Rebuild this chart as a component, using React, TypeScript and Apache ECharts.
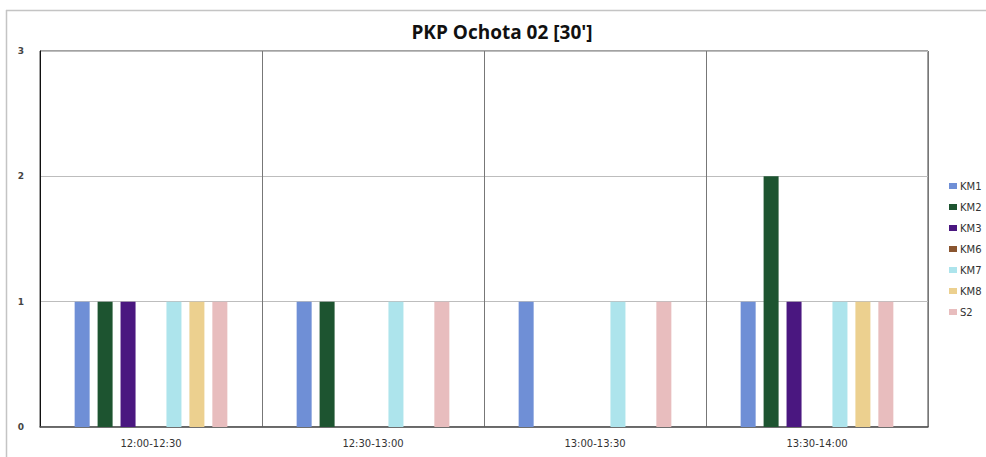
import React, { useEffect, useRef } from "react";
import * as echarts from "echarts";

const categories = ["12:00-12:30", "12:30-13:00", "13:00-13:30", "13:30-14:00"];
const seriesNames = ["KM1", "KM2", "KM3", "KM6", "KM7", "KM8", "S2"];
const km1 = [1, 1, 1, 1];
const km2 = [1, 1, 0, 2];
const km3 = [1, 0, 0, 1];
const km6 = [0, 0, 0, 0];
const km7 = [1, 1, 1, 1];
const km8 = [1, 0, 0, 1];
const s2 = [1, 1, 1, 1];
const seriesValues = [km1, km2, km3, km6, km7, km8, s2];
const seriesColors = ["#6f8fd6", "#1d5430", "#4a1780", "#8a5530", "#ade4ec", "#ecd08f", "#e8bdbe"];
const yTicks = [0, 1, 2, 3];

export default function App() {
  const ref = useRef<HTMLDivElement>(null);
  useEffect(() => {
    if (!ref.current) return;
    const chart = echarts.init(ref.current, null, { renderer: "svg" });
    chart.setOption({
      animation: false,
      backgroundColor: "#ffffff",
      title: {
        text: "PKP Ochota 02 [30']",
        left: 497,
        top: 17,
        textAlign: "center",
        textStyle: { fontFamily: "Open Sans", fontWeight: "bold", fontSize: 19, color: "#111" },
      },
      graphic: [
        { type: "line", shape: { x1: 6, y1: 10.5, x2: 986, y2: 10.5 }, style: { stroke: "#c4c4c4", lineWidth: 1.5 } },
        { type: "line", shape: { x1: 6.5, y1: 10, x2: 6.5, y2: 457 }, style: { stroke: "#c4c4c4", lineWidth: 1.5 } },
      ],
      legend: {
        orient: "vertical",
        left: 944,
        top: 176,
        itemWidth: 8,
        itemHeight: 6,
        itemGap: 11,
        icon: "rect",
        textStyle: { fontFamily: "DejaVu Sans", fontSize: 10, color: "#333", padding: [0, 0, 0, -2] },
        data: seriesNames,
      },
      grid: {
        left: 40,
        top: 51,
        right: 58,
        bottom: 30,
        show: true,
        borderColor: "#444",
        borderWidth: 1,
        containLabel: false,
      },
      xAxis: {
        type: "category",
        data: categories,
        axisLine: { show: true, lineStyle: { color: "#555", width: 1.5 } },
        axisTick: { show: false },
        splitLine: { show: true, lineStyle: { color: "#777", width: 1 } },
        axisLabel: { fontFamily: "DejaVu Sans", fontSize: 10, color: "#333", margin: 11 },
      },
      yAxis: {
        type: "value",
        min: yTicks[0],
        max: yTicks[yTicks.length - 1],
        interval: 1,
        axisLine: { show: true, lineStyle: { color: "#111" } },
        axisTick: { show: false },
        splitLine: { show: true, lineStyle: { color: "#bdbdbd" } },
        axisLabel: { fontFamily: "DejaVu Sans", fontSize: 9, fontWeight: "bold", color: "#444", margin: 16 },
      },
      series: seriesNames.map((name, i) => ({
        name,
        type: "bar",
        data: seriesValues[i],
        barWidth: 15,
        barGap: "53%",
        itemStyle: { color: seriesColors[i] },
      })),
    });
    return () => chart.dispose();
  }, []);
  return <div ref={ref} style={{ position: "fixed", left: 0, top: 0, width: 986, height: 457 }} />;
}
